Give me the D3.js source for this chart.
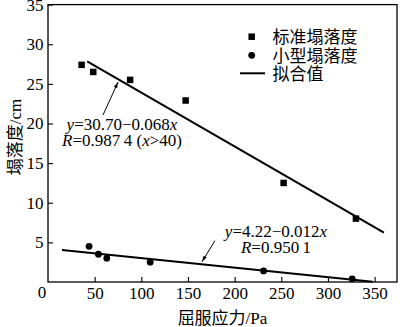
<!DOCTYPE html>
<html>
<head>
<meta charset="utf-8">
<script src="https://cdn.jsdelivr.net/npm/d3@7"></script>
<style>
  body { margin: 0; background: #fff; }
  svg { display: block; }
</style>
</head>
<body>
<svg id="chart" width="400" height="327"></svg>
<script>
// Standard slump test (squares)
const stdStress = [36, 48.5, 88, 147.5, 252.5, 330];
const stdSlump  = [27.4, 26.5, 25.5, 22.9, 12.5, 8.0];
// Mini slump test (dots)
const miniStress = [44, 54, 63, 109.5, 231, 326];
const miniSlump  = [4.5, 3.5, 3.0, 2.5, 1.4, 0.4];
// Linear fits: slump = intercept + slope * stress, drawn over [from, to]
const stdFit  = { intercept: 30.70, slope: -0.068, from: 42, to: 360 };
const miniFit = { intercept: 4.22,  slope: -0.012, from: 15, to: 348 };

const xTicks = [50, 100, 150, 200, 250, 300, 350];
const yTicks = [5, 10, 15, 20, 25, 30, 35];
const legendLabels = ["标准塌落度", "小型塌落度", "拟合值"];
const xTitle = "屈服应力/Pa";
const yTitle = "塌落度/cm";

const FONT = '"Liberation Serif", "Times New Roman", "Noto Sans CJK SC", serif';
const svg = d3.select("#chart");
const x = d3.scaleLinear().domain([0, 374]).range([48, 397]);
const y = d3.scaleLinear().domain([0, 35]).range([282, 4.6]);

// axes with inward ticks
const gx = svg.append("g").attr("transform", `translate(0,${y(0)})`)
  .call(d3.axisBottom(x).tickValues(xTicks).tickSizeInner(-5).tickSizeOuter(0).tickPadding(4.5));
const gy = svg.append("g").attr("transform", `translate(${x(0)},0)`)
  .call(d3.axisLeft(y).tickValues(yTicks).tickSizeInner(-5).tickSizeOuter(0).tickPadding(4.5));
[gx, gy].forEach(g => {
  g.select(".domain").remove();
  g.selectAll(".tick line").attr("stroke", "#000").attr("stroke-width", 1.1);
  g.selectAll(".tick text").attr("fill", "#000").style("font-family", FONT).style("font-size", "17px");
});
// shared origin label
svg.append("text").attr("x", x(0) - 6).attr("y", 297.5).attr("text-anchor", "middle")
  .style("font-family", FONT).style("font-size", "17px").text("0");

// frame
svg.append("rect").attr("x", x(0)).attr("y", y(35))
  .attr("width", x(374) - x(0)).attr("height", y(0) - y(35))
  .attr("fill", "none").attr("stroke", "#000").attr("stroke-width", 1.3);

// fit lines
const fitLine = f => [[f.from, f.intercept + f.slope * f.from], [f.to, f.intercept + f.slope * f.to]];
const line = d3.line().x(d => x(d[0])).y(d => y(d[1]));
[stdFit, miniFit].forEach(f => {
  svg.append("path").attr("d", line(fitLine(f)))
    .attr("fill", "none").attr("stroke", "#000").attr("stroke-width", 2);
});

// markers
const sq = 6.5;
svg.append("g").selectAll("rect").data(stdStress.map((s, i) => [s, stdSlump[i]])).join("rect")
  .attr("x", d => x(d[0]) - sq / 2).attr("y", d => y(d[1]) - sq / 2)
  .attr("width", sq).attr("height", sq).attr("fill", "#000");
svg.append("g").selectAll("circle").data(miniStress.map((s, i) => [s, miniSlump[i]])).join("circle")
  .attr("cx", d => x(d[0])).attr("cy", d => y(d[1])).attr("r", 3.4).attr("fill", "#000");

// annotation arrows pointing at the fit lines
function arrow(f, at, off, tail) {
  const tx = x(at), ty = y(f.intercept + f.slope * at) + off;
  const sx = tx + tail[0], sy = ty + tail[1];
  svg.append("line").attr("x1", sx).attr("y1", sy).attr("x2", tx).attr("y2", ty)
    .attr("stroke", "#000").attr("stroke-width", 1);
  const a = Math.atan2(ty - sy, tx - sx), L = 6, W = 1.8;
  const p = [[tx, ty],
    [tx - L * Math.cos(a) + W * Math.sin(a), ty - L * Math.sin(a) - W * Math.cos(a)],
    [tx - L * Math.cos(a) - W * Math.sin(a), ty - L * Math.sin(a) + W * Math.cos(a)]];
  svg.append("path").attr("d", "M" + p.join("L") + "Z").attr("fill", "#000");
}
arrow(stdFit, 75, 3, [-15, 33]);
arrow(miniFit, 165, -2.5, [13, -21]);

// equation labels
function eq(cx, by, parts) {
  const t = svg.append("text").attr("x", cx).attr("y", by).attr("text-anchor", "middle")
    .style("font-family", FONT).style("font-size", "17px");
  parts.forEach(p => t.append("tspan").style("font-style", p[1] ? "italic" : "normal").text(p[0]));
}
eq(122, 130, [["y", 1], ["=30.70\u22120.068", 0], ["x", 1]]);
eq(122, 145.5, [["R", 1], ["=0.987\u20094 (", 0], ["x", 1], [">40)", 0]]);
eq(276, 237, [["y", 1], ["=4.22\u22120.012", 0], ["x", 1]]);
eq(276, 253, [["R", 1], ["=0.950\u20091", 0]]);

// legend
const legY = [36.7, 55.3, 73.3];
const lg = svg.append("g");
lg.append("rect").attr("x", 251.7 - sq / 2).attr("y", legY[0] - sq / 2).attr("width", sq).attr("height", sq).attr("fill", "#000");
lg.append("circle").attr("cx", 251.7).attr("cy", legY[1]).attr("r", 3.4).attr("fill", "#000");
lg.append("line").attr("x1", 240).attr("x2", 265).attr("y1", legY[2]).attr("y2", legY[2]).attr("stroke", "#000").attr("stroke-width", 2);
lg.selectAll("text").data(legendLabels).join("text")
  .attr("x", 272.5).attr("y", (d, i) => legY[i]).attr("dy", "0.38em")
  .style("font-family", FONT).style("font-size", "17px").text(d => d);

// axis titles
svg.append("text").attr("x", (x(0) + x(374)) / 2).attr("y", 318).attr("dy", "0.38em")
  .attr("text-anchor", "middle").style("font-family", FONT).style("font-size", "17px").text(xTitle);
svg.append("text").attr("transform", "translate(15,137) rotate(-90)").attr("dy", "0.38em")
  .attr("text-anchor", "middle").style("font-family", FONT).style("font-size", "17px").text(yTitle);
</script>
</body>
</html>
